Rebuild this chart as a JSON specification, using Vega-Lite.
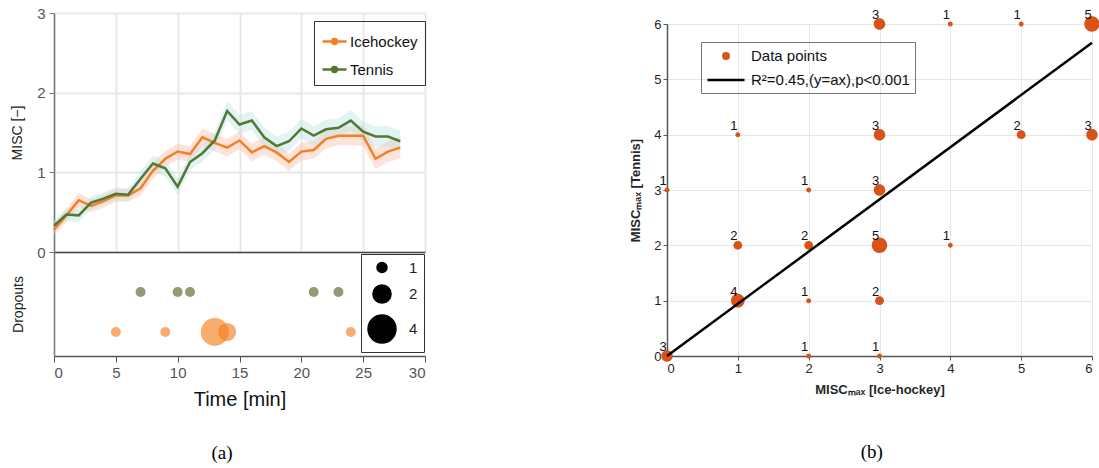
{
  "$schema": "https://vega.github.io/schema/vega-lite/v6.json",
  "padding": {"left": 10, "top": 6, "right": 0, "bottom": 0},
  "config": {
    "view": {"stroke": null},
    "font": "Liberation Sans",
    "axis": {"labelFont": "Liberation Sans", "titleFont": "Liberation Sans"},
    "legend": {"labelFont": "Liberation Sans"}
  },
  "datasets": {
    "misc": [
      {"t": 0, "sport": "Icehockey", "v": 0.28, "lo": 0.21, "hi": 0.35},
      {"t": 1, "sport": "Icehockey", "v": 0.46, "lo": 0.38, "hi": 0.54},
      {"t": 2, "sport": "Icehockey", "v": 0.65, "lo": 0.56, "hi": 0.74},
      {"t": 3, "sport": "Icehockey", "v": 0.58, "lo": 0.50, "hi": 0.66},
      {"t": 4, "sport": "Icehockey", "v": 0.64, "lo": 0.56, "hi": 0.72},
      {"t": 5, "sport": "Icehockey", "v": 0.71, "lo": 0.63, "hi": 0.79},
      {"t": 6, "sport": "Icehockey", "v": 0.71, "lo": 0.63, "hi": 0.79},
      {"t": 7, "sport": "Icehockey", "v": 0.80, "lo": 0.71, "hi": 0.89},
      {"t": 8, "sport": "Icehockey", "v": 1.02, "lo": 0.92, "hi": 1.12},
      {"t": 9, "sport": "Icehockey", "v": 1.17, "lo": 1.07, "hi": 1.27},
      {"t": 10, "sport": "Icehockey", "v": 1.26, "lo": 1.16, "hi": 1.36},
      {"t": 11, "sport": "Icehockey", "v": 1.23, "lo": 1.13, "hi": 1.33},
      {"t": 12, "sport": "Icehockey", "v": 1.44, "lo": 1.33, "hi": 1.55},
      {"t": 13, "sport": "Icehockey", "v": 1.37, "lo": 1.26, "hi": 1.48},
      {"t": 14, "sport": "Icehockey", "v": 1.31, "lo": 1.20, "hi": 1.42},
      {"t": 15, "sport": "Icehockey", "v": 1.40, "lo": 1.29, "hi": 1.51},
      {"t": 16, "sport": "Icehockey", "v": 1.25, "lo": 1.14, "hi": 1.36},
      {"t": 17, "sport": "Icehockey", "v": 1.33, "lo": 1.22, "hi": 1.44},
      {"t": 18, "sport": "Icehockey", "v": 1.25, "lo": 1.14, "hi": 1.36},
      {"t": 19, "sport": "Icehockey", "v": 1.13, "lo": 1.02, "hi": 1.24},
      {"t": 20, "sport": "Icehockey", "v": 1.26, "lo": 1.15, "hi": 1.37},
      {"t": 21, "sport": "Icehockey", "v": 1.28, "lo": 1.17, "hi": 1.39},
      {"t": 22, "sport": "Icehockey", "v": 1.42, "lo": 1.30, "hi": 1.54},
      {"t": 23, "sport": "Icehockey", "v": 1.46, "lo": 1.34, "hi": 1.58},
      {"t": 24, "sport": "Icehockey", "v": 1.46, "lo": 1.34, "hi": 1.58},
      {"t": 25, "sport": "Icehockey", "v": 1.46, "lo": 1.33, "hi": 1.59},
      {"t": 26, "sport": "Icehockey", "v": 1.17, "lo": 1.04, "hi": 1.30},
      {"t": 27, "sport": "Icehockey", "v": 1.26, "lo": 1.13, "hi": 1.39},
      {"t": 28, "sport": "Icehockey", "v": 1.31, "lo": 1.17, "hi": 1.45},
      {"t": 0, "sport": "Tennis", "v": 0.33, "lo": 0.26, "hi": 0.40},
      {"t": 1, "sport": "Tennis", "v": 0.47, "lo": 0.39, "hi": 0.55},
      {"t": 2, "sport": "Tennis", "v": 0.46, "lo": 0.38, "hi": 0.54},
      {"t": 3, "sport": "Tennis", "v": 0.62, "lo": 0.54, "hi": 0.70},
      {"t": 4, "sport": "Tennis", "v": 0.67, "lo": 0.59, "hi": 0.75},
      {"t": 5, "sport": "Tennis", "v": 0.73, "lo": 0.65, "hi": 0.81},
      {"t": 6, "sport": "Tennis", "v": 0.72, "lo": 0.64, "hi": 0.80},
      {"t": 7, "sport": "Tennis", "v": 0.92, "lo": 0.83, "hi": 1.01},
      {"t": 8, "sport": "Tennis", "v": 1.11, "lo": 1.01, "hi": 1.21},
      {"t": 9, "sport": "Tennis", "v": 1.05, "lo": 0.95, "hi": 1.15},
      {"t": 10, "sport": "Tennis", "v": 0.82, "lo": 0.72, "hi": 0.92},
      {"t": 11, "sport": "Tennis", "v": 1.13, "lo": 1.03, "hi": 1.23},
      {"t": 12, "sport": "Tennis", "v": 1.24, "lo": 1.13, "hi": 1.35},
      {"t": 13, "sport": "Tennis", "v": 1.40, "lo": 1.29, "hi": 1.51},
      {"t": 14, "sport": "Tennis", "v": 1.77, "lo": 1.65, "hi": 1.89},
      {"t": 15, "sport": "Tennis", "v": 1.60, "lo": 1.48, "hi": 1.72},
      {"t": 16, "sport": "Tennis", "v": 1.65, "lo": 1.53, "hi": 1.77},
      {"t": 17, "sport": "Tennis", "v": 1.44, "lo": 1.32, "hi": 1.56},
      {"t": 18, "sport": "Tennis", "v": 1.33, "lo": 1.21, "hi": 1.45},
      {"t": 19, "sport": "Tennis", "v": 1.39, "lo": 1.27, "hi": 1.51},
      {"t": 20, "sport": "Tennis", "v": 1.55, "lo": 1.43, "hi": 1.67},
      {"t": 21, "sport": "Tennis", "v": 1.46, "lo": 1.34, "hi": 1.58},
      {"t": 22, "sport": "Tennis", "v": 1.54, "lo": 1.42, "hi": 1.66},
      {"t": 23, "sport": "Tennis", "v": 1.56, "lo": 1.44, "hi": 1.68},
      {"t": 24, "sport": "Tennis", "v": 1.65, "lo": 1.52, "hi": 1.78},
      {"t": 25, "sport": "Tennis", "v": 1.51, "lo": 1.38, "hi": 1.64},
      {"t": 26, "sport": "Tennis", "v": 1.45, "lo": 1.32, "hi": 1.58},
      {"t": 27, "sport": "Tennis", "v": 1.45, "lo": 1.32, "hi": 1.58},
      {"t": 28, "sport": "Tennis", "v": 1.39, "lo": 1.26, "hi": 1.52}
    ],
    "dropouts": [
      {"t": 7, "sport": "Tennis", "n": 1},
      {"t": 10, "sport": "Tennis", "n": 1},
      {"t": 11, "sport": "Tennis", "n": 1},
      {"t": 21, "sport": "Tennis", "n": 1},
      {"t": 23, "sport": "Tennis", "n": 1},
      {"t": 5, "sport": "Icehockey", "n": 1},
      {"t": 9, "sport": "Icehockey", "n": 1},
      {"t": 13, "sport": "Icehockey", "n": 4},
      {"t": 14, "sport": "Icehockey", "n": 2},
      {"t": 24, "sport": "Icehockey", "n": 1}
    ],
    "scatter": [
      {"ice": 0, "tennis": 0, "n": 3},
      {"ice": 0, "tennis": 3, "n": 1},
      {"ice": 1, "tennis": 4, "n": 1},
      {"ice": 3, "tennis": 6, "n": 3},
      {"ice": 4, "tennis": 6, "n": 1},
      {"ice": 5, "tennis": 6, "n": 1},
      {"ice": 6, "tennis": 6, "n": 5},
      {"ice": 3, "tennis": 4, "n": 3},
      {"ice": 5, "tennis": 4, "n": 2},
      {"ice": 6, "tennis": 4, "n": 3},
      {"ice": 2, "tennis": 3, "n": 1},
      {"ice": 3, "tennis": 3, "n": 3},
      {"ice": 1, "tennis": 2, "n": 2},
      {"ice": 2, "tennis": 2, "n": 2},
      {"ice": 3, "tennis": 2, "n": 5},
      {"ice": 4, "tennis": 2, "n": 1},
      {"ice": 1, "tennis": 1, "n": 4},
      {"ice": 2, "tennis": 1, "n": 1},
      {"ice": 3, "tennis": 1, "n": 2},
      {"ice": 2, "tennis": 0, "n": 1},
      {"ice": 3, "tennis": 0, "n": 1}
    ],
    "fit": [
      {"ice": 0, "tennis": 0},
      {"ice": 6, "tennis": 5.66}
    ]
  },
  "resolve": {"scale": {"color": "independent", "size": "independent", "fill": "independent", "stroke": "independent", "shape": "independent"}, "legend": {"color": "independent", "size": "independent", "shape": "independent"}},
  "spacing": 203,
  "hconcat": [
    {
      "title": {"text": "(a)", "orient": "bottom", "anchor": "middle", "dx": 4, "font": "Liberation Serif", "fontSize": 19, "fontWeight": "normal", "color": "black", "offset": 35},
      "spacing": 0,
      "bounds": "flush",
      "resolve": {"scale": {"color": "independent", "size": "independent"}, "legend": {"color": "independent", "size": "independent"}},
      "vconcat": [
        {
          "width": 371,
          "height": 239,
          "data": {"name": "misc"},
          "encoding": {
            "x": {"field": "t", "type": "quantitative", "scale": {"domain": [0, 30]},
              "axis": {"values": [0, 5, 10, 15, 20, 25, 30], "labels": false, "ticks": false, "title": null, "grid": true, "gridColor": "#e8e8e8", "gridWidth": 2, "domainColor": "#444", "domainWidth": 1.5}}
          },
          "layer": [
            {
              "transform": [{"filter": "datum.sport === 'Icehockey'"}],
              "mark": {"type": "area", "color": "#f9b9a0", "opacity": 0.4},
              "encoding": {
                "y": {"field": "lo", "type": "quantitative"},
                "y2": {"field": "hi"}
              }
            },
            {
              "transform": [{"filter": "datum.sport === 'Tennis'"}],
              "mark": {"type": "area", "color": "#b5e0e0", "opacity": 0.4},
              "encoding": {
                "y": {"field": "lo", "type": "quantitative"},
                "y2": {"field": "hi"}
              }
            },
            {
              "mark": {"type": "line", "strokeWidth": 2.5},
              "encoding": {
                "y": {"field": "v", "type": "quantitative", "scale": {"domain": [0, 3]},
                  "axis": {"values": [0, 1, 2, 3], "format": "d", "grid": true, "gridColor": "#e8e8e8", "gridWidth": 2, "domainColor": "#777", "domainWidth": 1.5, "tickColor": "#777", "tickSize": 5, "labelFontSize": 15, "labelColor": "#555", "labelPadding": 4, "title": "MISC [−]", "titleFontSize": 14, "titleFontWeight": "normal", "titleColor": "#222", "titlePadding": 12}},
                "color": {"field": "sport", "type": "nominal", "scale": {"domain": ["Icehockey", "Tennis"], "range": ["#f57f25", "#557736"]},
                  "legend": {"orient": "none", "legendX": 260, "legendY": 8, "title": null, "symbolType": "M-1,0L1,0M-0.2,0A0.2,0.2,0,1,1,0.2,0A0.2,0.2,0,1,1,-0.2,0M-0.07,0A0.07,0.07,0,1,1,0.07,0A0.07,0.07,0,1,1,-0.07,0", "symbolSize": 576, "symbolStrokeWidth": 2.5, "symbolOpacity": 1, "labelFontSize": 15, "labelColor": "#111", "labelOffset": 2, "strokeColor": "#333", "padding": 7, "rowPadding": 6}
                }
              }
            }
          ]
        },
        {
          "width": 371,
          "height": 104,
          "data": {"name": "dropouts"},
          "mark": {"type": "circle", "opacity": 0.65},
          "encoding": {
            "x": {"field": "t", "type": "quantitative", "scale": {"domain": [0, 30]},
              "axis": {"values": [0, 5, 10, 15, 20, 25, 30], "grid": false, "domainColor": "#555", "domainWidth": 1.5, "tickColor": "#555", "tickSize": 6, "labelFontSize": 15, "labelColor": "#555", "labelPadding": 3, "title": "Time [min]", "titleFontSize": 20, "titleFontWeight": "normal", "titleColor": "#111", "titlePadding": 9}},
            "y": {"field": "sport", "type": "nominal", "scale": {"type": "point", "domain": ["Tennis", "Icehockey"], "padding": 0.8, "align": 0.625},
              "axis": {"labels": false, "ticks": false, "grid": false, "domainColor": "#777", "domainWidth": 1.5, "title": "Dropouts", "titleFontSize": 14, "titleFontWeight": "normal", "titleColor": "#222", "titlePadding": 29}},
            "color": {"field": "sport", "type": "nominal", "scale": {"domain": ["Icehockey", "Tennis"], "range": ["#f5801f", "#56662a"]}, "legend": null},
            "size": {"field": "n", "type": "quantitative", "scale": {"domain": [1, 4], "range": [100, 780], "zero": false},
              "legend": {"orient": "none", "legendX": 307, "legendY": 2, "title": null, "values": [1, 2, 4], "format": "d", "symbolFillColor": "black", "symbolStrokeColor": "black", "symbolOpacity": 1, "labelFontSize": 15, "labelColor": "#222", "labelOffset": 12, "strokeColor": "#333", "padding": 6, "rowPadding": 5}}
          }
        }
      ]
    },
    {
      "title": {"text": "(b)", "orient": "bottom", "anchor": "middle", "dx": 7, "font": "Liberation Serif", "fontSize": 19, "fontWeight": "normal", "color": "black", "offset": 47},
      "spacing": 0,
      "bounds": "flush",
      "vconcat": [
        {
          "width": 425,
          "height": 11,
          "data": {"values": [{"a": 0}]},
          "mark": {"type": "point", "opacity": 0}
        },
        {
          "width": 425,
          "height": 332,
          "encoding": {
            "x": {"field": "ice", "type": "quantitative", "scale": {"domain": [0, 6]},
              "axis": {"values": [0, 1, 2, 3, 4, 5, 6], "grid": true, "gridColor": "#e6e6e6", "domainColor": "#555", "domainWidth": 1.5, "tickColor": "#555", "tickSize": 4, "labelFontSize": 13, "labelColor": "#262626", "title": "MISCₘₐₓ [Ice-hockey]", "titleFontSize": 13, "titleFontWeight": "bold", "titleColor": "#262626", "titlePadding": 8}},
            "y": {"field": "tennis", "type": "quantitative", "scale": {"domain": [0, 6]},
              "axis": {"values": [0, 1, 2, 3, 4, 5, 6], "grid": true, "gridColor": "#e6e6e6", "domainColor": "#555", "domainWidth": 1.5, "tickColor": "#555", "tickSize": 4, "labelFontSize": 13, "labelColor": "#262626", "title": "MISCₘₐₓ [Tennis]", "titleFontSize": 13, "titleFontWeight": "bold", "titleColor": "#262626", "titlePadding": 11}}
          },
          "layer": [
            {
              "data": {"name": "scatter"},
              "mark": {"type": "point", "filled": true, "opacity": 1},
              "encoding": {
                "size": {"field": "n", "type": "quantitative", "scale": {"domain": [1, 5], "range": [180, 1750], "zero": false}, "legend": null},
                "shape": {"datum": "Data points", "type": "nominal",
                  "scale": {"domain": ["Data points", "R²=0.45,(y=ax),p<0.001"], "range": ["M-0.37,0A0.37,0.37,0,1,1,0.37,0A0.37,0.37,0,1,1,-0.37,0M-0.12,0A0.12,0.12,0,1,1,0.12,0A0.12,0.12,0,1,1,-0.12,0", "M-2.47,0L2.47,0"]},
                  "legend": {"orient": "none", "legendX": 34, "legendY": 29, "title": null, "symbolSize": 225, "symbolOffset": 11, "symbolStrokeWidth": 2.5, "symbolOpacity": 1, "labelFontSize": 15, "labelColor": "#111", "labelOffset": 16, "strokeColor": "#777", "padding": 5, "rowPadding": 7}},
                "color": {"datum": "Data points", "type": "nominal",
                  "scale": {"domain": ["Data points", "R²=0.45,(y=ax),p<0.001"], "range": ["#d95319", "black"]},
                  "legend": {"orient": "none", "legendX": 34, "legendY": 29, "title": null, "symbolSize": 225, "symbolOffset": 11, "symbolStrokeWidth": 2.5, "symbolOpacity": 1, "labelFontSize": 15, "labelColor": "#111", "labelOffset": 16, "strokeColor": "#777", "padding": 5, "rowPadding": 7}
                }
              }
            },
            {
              "data": {"name": "fit"},
              "mark": {"type": "line", "strokeWidth": 2.5},
              "encoding": {
                "color": {"datum": "R²=0.45,(y=ax),p<0.001", "type": "nominal"}
              }
            },
            {
              "data": {"name": "scatter"},
              "mark": {"type": "text", "dx": -4, "dy": -9, "fontSize": 13, "color": "#111"},
              "encoding": {"text": {"field": "n", "type": "quantitative"}}
            }
          ]
        }
      ]
    }
  ]
}
